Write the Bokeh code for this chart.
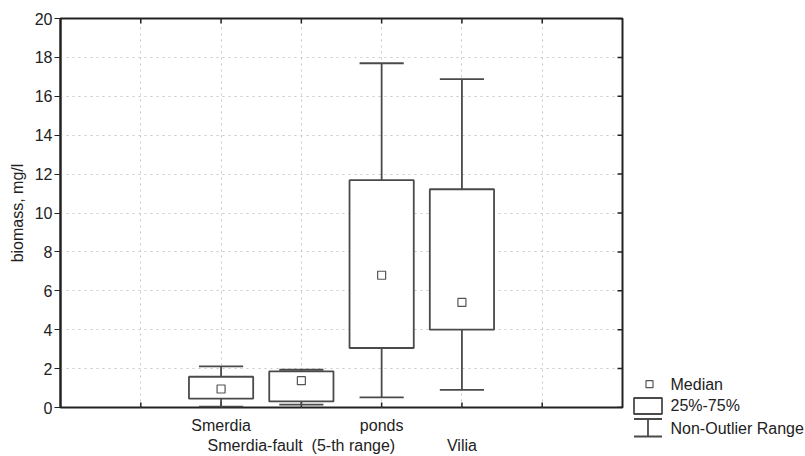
import math
from bokeh.plotting import figure
from bokeh.models import Range1d, FixedTicker, LinearAxis
from bokeh.layouts import row
from bokeh.core.properties import value
from bokeh.embed import file_html
from bokeh.resources import INLINE

# ---- data ----
categories = ["Smerdia", "Smerdia-fault\u00a0\u00a0(5-th range)", "ponds", "Vilia"]
label_rows = [0, 1, 0, 1]
whisker_low = [0.05, 0.15, 0.52, 0.91]
q1 = [0.46, 0.31, 3.06, 4.00]
medians = [0.95, 1.38, 6.80, 5.40]
q3 = [1.58, 1.86, 11.69, 11.22]
whisker_high = [2.11, 1.94, 17.70, 16.88]
y_ticks = list(range(0, 21, 2))
x_grid = [1, 2, 3, 4, 5, 6]
legend_labels = ["Median", "25%-75%", "Non-Outlier Range"]

FONT = "Liberation Sans"
FS = "16px"
TXT = "#222222"
LINE = "#4a4a4a"
FRAME = "#222222"

xs = [i + 2 for i in range(len(categories))]
half_box = 0.4
half_cap = 0.275
X0, X1, Y0, Y1 = 0, 7, 0, 20

p = figure(width=630, height=456, x_range=Range1d(X0, X1), y_range=Range1d(Y0, Y1),
           output_backend="svg", toolbar_location=None,
           min_border_left=60, min_border_right=8, min_border_top=18, min_border_bottom=49,
           background_fill_color="white", border_fill_color="white")
p.outline_line_color = FRAME
p.outline_line_width = 2

# grids
p.xgrid.ticker = FixedTicker(ticks=x_grid)
p.ygrid.ticker = FixedTicker(ticks=y_ticks[1:-1])
for g in (p.xgrid, p.ygrid):
    g.grid_line_color = "#c8c8c8"
    g.grid_line_dash = "dotted"
    g.grid_line_width = 1

# left axis
ya = p.yaxis[0]
ya.ticker = FixedTicker(ticks=y_ticks)
ya.major_tick_out = 6
ya.major_tick_in = 0
ya.minor_tick_out = 0
ya.minor_tick_in = 0
ya.major_label_standoff = 2
ya.major_label_text_font = FONT
ya.major_label_text_font_size = FS
ya.major_label_text_color = TXT
ya.axis_line_color = FRAME
ya.axis_line_width = 2
ya.major_tick_line_color = FRAME
ya.axis_label = "biomass, mg/l"
ya.axis_label_text_font = FONT
ya.axis_label_text_font_size = FS
ya.axis_label_text_font_style = "normal"
ya.axis_label_text_color = TXT
ya.axis_label_standoff = 6

# category labels: two staggered rows on two bottom axes
row_standoff = [9, 0]
row_axes = [p.xaxis[0], LinearAxis()]
p.add_layout(row_axes[1], "below")
for r, ax in enumerate(row_axes):
    ticks = [x for x, rr in zip(xs, label_rows) if rr == r]
    ax.ticker = FixedTicker(ticks=ticks)
    ax.major_label_overrides = {x: c for x, c, rr in zip(xs, categories, label_rows) if rr == r}
    ax.major_tick_in = 0
    ax.major_tick_out = 0
    ax.minor_tick_in = 0
    ax.minor_tick_out = 0
    ax.axis_line_color = None
    ax.major_tick_line_color = None
    ax.minor_tick_line_color = None
    ax.major_label_standoff = row_standoff[r]
    ax.major_label_text_font = FONT
    ax.major_label_text_font_size = FS
    ax.major_label_text_color = TXT

# inward tick marks on bottom, top and right edges
tick_kw = dict(length=5, length_units="screen", line_color=FRAME, line_width=1.5)
p.ray(x=x_grid, y=[Y0] * len(x_grid), angle=math.pi / 2, **tick_kw)
p.ray(x=x_grid, y=[Y1] * len(x_grid), angle=-math.pi / 2, **tick_kw)
p.ray(x=[X1] * len(y_ticks), y=y_ticks, angle=math.pi, **tick_kw)

# boxes
p.quad(left=[x - half_box for x in xs], right=[x + half_box for x in xs],
       bottom=q1, top=q3, fill_color="white", line_color=LINE, line_width=1.8)
# whiskers
p.segment(x0=xs, y0=q3, x1=xs, y1=whisker_high, line_color=LINE, line_width=1.8)
p.segment(x0=xs, y0=whisker_low, x1=xs, y1=q1, line_color=LINE, line_width=1.8)
# caps
p.segment(x0=[x - half_cap for x in xs], y0=whisker_high, x1=[x + half_cap for x in xs],
          y1=whisker_high, line_color=LINE, line_width=1.8)
p.segment(x0=[x - half_cap for x in xs], y0=whisker_low, x1=[x + half_cap for x in xs],
          y1=whisker_low, line_color=LINE, line_width=1.8)
# medians
p.scatter(x=xs, y=medians, marker="square", size=8, fill_color="white",
          line_color="#555555", line_width=1.2)

# legend panel (coordinates = pixels of the page)
q = figure(width=175, height=456, x_range=Range1d(630, 805), y_range=Range1d(456, 0),
           output_backend="svg", toolbar_location=None,
           x_axis_location=None, y_axis_location=None,
           min_border_left=0, min_border_right=0, min_border_top=0, min_border_bottom=0,
           background_fill_color="white", border_fill_color="white")
for fig in (p, q):
    try:
        fig.frame_align = False
    except Exception:
        pass
q.outline_line_color = None
q.grid.visible = False
q.scatter(x=[649], y=[383.7], marker="square", size=7, fill_color="white",
          line_color="#555555", line_width=1.2)
q.quad(left=[633.5], right=[661.5], top=[397.5], bottom=[413.5], fill_color="white",
       line_color=LINE, line_width=1.8)
q.segment(x0=[633.5, 647.5, 633.5], y0=[418.5, 418.5, 436], x1=[661.5, 647.5, 661.5],
          y1=[418.5, 436, 436], line_color=LINE, line_width=1.8)
q.text(x=[670, 670, 670], y=[383.5, 405, 427.5], text=legend_labels,
       text_baseline="middle", text_align="left", text_font=value(FONT),
       text_font_size=FS, text_color=TXT)

layout = row(p, q)
open("out.html", "w").write(file_html(layout, INLINE))
